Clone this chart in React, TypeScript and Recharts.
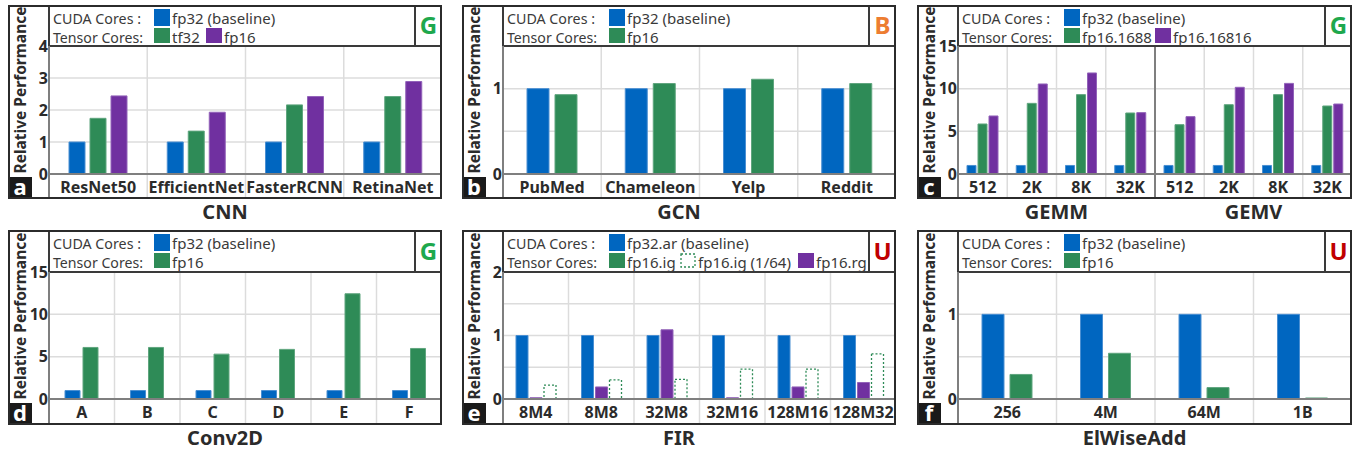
import { BarChart, Bar, XAxis, YAxis, CartesianGrid } from 'recharts';

const FONT = '"Noto Sans", sans-serif';
const BLUE = '#0066c0';
const GREEN = '#2e8b57';
const PURPLE = '#7030a0';
const TEXT = '#2b2b2b';
const FRAME = '#2b2b2b';
const AXIS = '#7f7f7f';
const GRID = '#dcdcdc';

// a: CNN
const cnnModels = ['ResNet50', 'EfficientNet', 'FasterRCNN', 'RetinaNet'];
const cnnFp32 = [1, 1, 1, 1];
const cnnTf32 = [1.74, 1.34, 2.16, 2.42];
const cnnFp16 = [2.44, 1.93, 2.42, 2.89];

// b: GCN
const gcnGraphs = ['PubMed', 'Chameleon', 'Yelp', 'Reddit'];
const gcnFp32 = [1, 1, 1, 1];
const gcnFp16 = [0.93, 1.06, 1.11, 1.06];

// c: GEMM / GEMV
const matSizes = ['512', '2K', '8K', '32K'];
const gemmFp32 = [1, 1, 1, 1];
const gemm1688 = [5.86, 8.28, 9.3, 7.15];
const gemm16816 = [6.8, 10.55, 11.84, 7.19];
const gemvFp32 = [1, 1, 1, 1];
const gemv1688 = [5.78, 8.12, 9.3, 7.97];
const gemv16816 = [6.72, 10.16, 10.62, 8.2];

// d: Conv2D
const convLayers = ['A', 'B', 'C', 'D', 'E', 'F'];
const convFp32 = [1, 1, 1, 1, 1, 1];
const convFp16 = [6.09, 6.09, 5.3, 5.86, 12.43, 5.97];

// e: FIR
const firConfigs = ['8M4', '8M8', '32M8', '32M16', '128M16', '128M32'];
const firFp32 = [1, 1, 1, 1, 1, 1];
const firRg = [0.02, 0.19, 1.09, 0.02, 0.19, 0.26];
const firIg64 = [0.22, 0.3, 0.31, 0.47, 0.47, 0.71];

// f: ElWiseAdd
const addSizes = ['256', '4M', '64M', '1B'];
const addFp32 = [1, 1, 1, 1];
const addFp16 = [0.29, 0.54, 0.135, 0.012];

const cnnRows = cnnModels.map((id, i) => ({ id, fp32: cnnFp32[i], tf32: cnnTf32[i], fp16: cnnFp16[i] }));
const gcnRows = gcnGraphs.map((id, i) => ({ id, fp32: gcnFp32[i], fp16: gcnFp16[i] }));
const gemmRows = [
  ...matSizes.map((s, i) => ({ id: 'GEMM ' + s, fp32: gemmFp32[i], h1688: gemm1688[i], h16816: gemm16816[i] })),
  ...matSizes.map((s, i) => ({ id: 'GEMV ' + s, fp32: gemvFp32[i], h1688: gemv1688[i], h16816: gemv16816[i] })),
];
const convRows = convLayers.map((id, i) => ({ id, fp32: convFp32[i], fp16: convFp16[i] }));
const firRows = firConfigs.map((id, i) => ({ id, fp32: firFp32[i], rg: firRg[i], ig64: firIg64[i] }));
const addRows = addSizes.map((id, i) => ({ id, fp32: addFp32[i], fp16: addFp16[i] }));

type Series = { key: string; fill: string; edge: string; dotted?: boolean };
type LegendItem = { label: string; fill: string; x: number; dotted?: boolean };
type Title = { text: string; cx: number };

interface PanelProps {
  left: number;
  top: number;
  width: number;
  height: number;
  legendH: number;
  axisH: number;
  rows: Record<string, string | number>[];
  labels: string[];
  series: Series[];
  barSize: number;
  barGap: number;
  domain: [number, number];
  ticks: number[];
  cuda: LegendItem[];
  tensor: LegendItem[];
  badge: string;
  badgeColor: string;
  letter: string;
  titles: Title[];
  divider?: number;
}

const sBlue: Series = { key: 'fp32', fill: BLUE, edge: '#4a8fd2' };

function Swatch({ item, y, h }: { item: LegendItem; y: number; h: number }) {
  if (item.dotted) {
    return (
      <rect x={item.x + 1} y={y + 1} width={14} height={h - 2} fill="#fff" stroke={item.fill} strokeWidth={1.3} strokeDasharray="2 2" />
    );
  }
  return <rect x={item.x} y={y} width={16} height={h} fill={item.fill} />;
}

function Panel(p: PanelProps) {
  const { left, top, width: W, height: H, legendH, axisH } = p;
  const yW = 41;
  const plotW = W - yW;
  const plotH = H - legendH - axisH;
  const n = p.rows.length;
  const bw = plotW / n;

  const renderTick = (t: any) => {
    const { x, y, index } = t;
    const sx = x - bw / 2;
    const isDiv = p.divider === index;
    return (
      <g>
        {index > 0 && !isDiv && (
          <>
            <line x1={sx} x2={sx} y1={y - plotH} y2={y - 1} stroke={GRID} strokeWidth={1.5} />
            <line x1={sx} x2={sx} y1={y + 1} y2={y + axisH} stroke={GRID} strokeWidth={1.5} />
          </>
        )}
        {isDiv && <line x1={sx} x2={sx} y1={y - plotH} y2={y + axisH} stroke={AXIS} strokeWidth={2} />}
        <text x={x} y={y + axisH / 2 + 6} textAnchor="middle" fontSize={16} fontWeight={700} fill={TEXT} fontFamily={FONT}>
          {p.labels[index]}
        </text>
      </g>
    );
  };

  return (
    <div style={{ position: 'absolute', left, top, width: W, height: H + 30 }}>
      <BarChart
        width={W}
        height={H}
        data={p.rows}
        margin={{ top: legendH, right: 0, bottom: 0, left: 0 }}
        barGap={p.barGap}
      >
        <CartesianGrid vertical={false} stroke={GRID} strokeWidth={1.5} />
        <XAxis
          dataKey="id"
          height={axisH}
          interval={0}
          tickLine={false}
          tickSize={0}
          tickMargin={0}
          axisLine={{ stroke: AXIS, strokeWidth: 2 }}
          tick={renderTick}
        />
        <YAxis
          width={yW}
          type="number"
          domain={p.domain}
          ticks={p.ticks}
          interval={0}
          allowDataOverflow
          tickLine={false}
          tickSize={0}
          tickMargin={1}
          axisLine={{ stroke: AXIS, strokeWidth: 2 }}
          tick={{ fontSize: 16, fontWeight: 700, fill: TEXT, fontFamily: FONT }}
          tickFormatter={(v: number) => (Number.isInteger(v) ? String(v) : '')}
        />
        {p.series.map((s) => (
          <Bar
            key={s.key}
            dataKey={s.key}
            barSize={p.barSize}
            fill={s.dotted ? '#ffffff' : s.fill}
            stroke={s.dotted ? s.fill : s.edge}
            strokeWidth={s.dotted ? 1.3 : 1}
            strokeDasharray={s.dotted ? '2 2' : undefined}
            isAnimationActive={false}
          />
        ))}
      </BarChart>
      <svg
        width={W}
        height={H + 30}
        style={{ position: 'absolute', left: 0, top: 0, overflow: 'visible', pointerEvents: 'none' }}
        fontFamily={FONT}
      >
        {/* legend */}
        <text x={45} y={18.5} fontSize={15} fill="#3a3a3a" textLength={88} lengthAdjust="spacingAndGlyphs">CUDA Cores :</text>
        <text x={45} y={37.5} fontSize={15} fill="#3a3a3a" textLength={90} lengthAdjust="spacingAndGlyphs">Tensor Cores:</text>
        {p.cuda.map((it) => (
          <g key={it.label}>
            <Swatch item={it} y={4} h={17} />
            <text x={it.x + 18} y={18.5} fontSize={15} fill="#3a3a3a">{it.label}</text>
          </g>
        ))}
        {p.tensor.map((it) => (
          <g key={it.label}>
            <Swatch item={it} y={23} h={15} />
            <text x={it.x + 18} y={37.5} fontSize={15} fill="#3a3a3a">{it.label}</text>
          </g>
        ))}
        <line x1={yW} x2={W} y1={legendH} y2={legendH} stroke="#3a3a3a" strokeWidth={2} />
        <line x1={yW} x2={yW} y1={0} y2={legendH} stroke="#3a3a3a" strokeWidth={2} />
        <line x1={yW} x2={yW} y1={legendH} y2={H} stroke={AXIS} strokeWidth={2} />
        <line x1={W - 27} x2={W - 27} y1={0} y2={legendH} stroke="#3a3a3a" strokeWidth={2} />
        <text x={W - 13.5} y={legendH / 2 + 8.5} textAnchor="middle" fontSize={24} fontWeight={700} fill={p.badgeColor}>
          {p.badge}
        </text>
        {/* y label */}
        <text
          transform={`translate(12, ${legendH + 44}) rotate(-90)`}
          textAnchor="middle"
          dominantBaseline="central"
          fontSize={15.5}
          fontWeight={700}
          fill={TEXT}
        >
          Relative Performance
        </text>
        {/* panel letter */}
        <rect x={0} y={H - 22} width={24} height={22} fill="#1a1a1a" />
        <text x={12} y={H - 4} textAnchor="middle" fontSize={22} fontWeight={700} fill="#fff">
          {p.letter}
        </text>
        <rect x={1} y={1} width={W - 2} height={H - 2} fill="none" stroke={FRAME} strokeWidth={2} />
        {p.titles.map((t) => (
          <text key={t.text} x={t.cx} y={H + 20} textAnchor="middle" fontSize={20} fontWeight={700} fill={TEXT}>
            {t.text}
          </text>
        ))}
      </svg>
    </div>
  );
}

const TOP = { top: 5, height: 194, legendH: 41, axisH: 25 };
const BOTTOM = { top: 230, height: 195, legendH: 42, axisH: 26 };

export default function App() {
  const cPlotW = 435 - 41;
  return (
    <div style={{ position: 'absolute', left: 0, top: 0, width: 1353, height: 451, background: '#fff', fontFamily: FONT }}>
      <Panel
        {...TOP}
        left={8}
        width={434}
        rows={cnnRows}
        labels={cnnModels}
        series={[sBlue, { key: 'tf32', fill: GREEN, edge: '#5fa57e' }, { key: 'fp16', fill: PURPLE, edge: '#9262b9' }]}
        barSize={16}
        barGap={5}
        domain={[0, 4]}
        ticks={[0, 1, 2, 3, 4]}
        cuda={[{ label: 'fp32 (baseline)', fill: BLUE, x: 146 }]}
        tensor={[
          { label: 'tf32', fill: GREEN, x: 146 },
          { label: 'fp16', fill: PURPLE, x: 198 },
        ]}
        badge="G"
        badgeColor="#1ea84d"
        letter="a"
        titles={[{ text: 'CNN', cx: 217 }]}
      />
      <Panel
        {...TOP}
        left={462}
        width={434}
        rows={gcnRows}
        labels={gcnGraphs}
        series={[sBlue, { key: 'fp16', fill: GREEN, edge: '#5fa57e' }]}
        barSize={22}
        barGap={6}
        domain={[0, 1.5]}
        ticks={[0, 0.5, 1, 1.5]}
        cuda={[{ label: 'fp32 (baseline)', fill: BLUE, x: 147 }]}
        tensor={[{ label: 'fp16', fill: GREEN, x: 147 }]}
        badge="B"
        badgeColor="#ed7d31"
        letter="b"
        titles={[{ text: 'GCN', cx: 217 }]}
      />
      <Panel
        {...TOP}
        left={917}
        width={435}
        rows={gemmRows}
        labels={[...matSizes, ...matSizes]}
        series={[sBlue, { key: 'h1688', fill: GREEN, edge: '#5fa57e' }, { key: 'h16816', fill: PURPLE, edge: '#9262b9' }]}
        barSize={9}
        barGap={2}
        domain={[0, 15]}
        ticks={[0, 5, 10, 15]}
        cuda={[{ label: 'fp32 (baseline)', fill: BLUE, x: 147 }]}
        tensor={[
          { label: 'fp16.1688', fill: GREEN, x: 147 },
          { label: 'fp16.16816', fill: PURPLE, x: 238 },
        ]}
        badge="G"
        badgeColor="#1ea84d"
        letter="c"
        divider={4}
        titles={[
          { text: 'GEMM', cx: 41 + cPlotW / 4 },
          { text: 'GEMV', cx: 41 + (cPlotW * 3) / 4 },
        ]}
      />
      <Panel
        {...BOTTOM}
        left={8}
        width={434}
        rows={convRows}
        labels={convLayers}
        series={[sBlue, { key: 'fp16', fill: GREEN, edge: '#5fa57e' }]}
        barSize={15}
        barGap={3}
        domain={[0, 15]}
        ticks={[0, 5, 10, 15]}
        cuda={[{ label: 'fp32 (baseline)', fill: BLUE, x: 146 }]}
        tensor={[{ label: 'fp16', fill: GREEN, x: 146 }]}
        badge="G"
        badgeColor="#1ea84d"
        letter="d"
        titles={[{ text: 'Conv2D', cx: 217 }]}
      />
      <Panel
        {...BOTTOM}
        left={462}
        width={434}
        rows={firRows}
        labels={firConfigs}
        series={[sBlue, { key: 'rg', fill: PURPLE, edge: '#9262b9' }, { key: 'ig64', fill: GREEN, edge: GREEN, dotted: true }]}
        barSize={12}
        barGap={2}
        domain={[0, 2]}
        ticks={[0, 0.5, 1, 1.5, 2]}
        cuda={[{ label: 'fp32.ar (baseline)', fill: BLUE, x: 147 }]}
        tensor={[
          { label: 'fp16.ig', fill: GREEN, x: 147 },
          { label: 'fp16.ig (1/64)', fill: GREEN, x: 218, dotted: true },
          { label: 'fp16.rg', fill: PURPLE, x: 336 },
        ]}
        badge="U"
        badgeColor="#c00000"
        letter="e"
        titles={[{ text: 'FIR', cx: 217 }]}
      />
      <Panel
        {...BOTTOM}
        left={917}
        width={435}
        rows={addRows}
        labels={addSizes}
        series={[sBlue, { key: 'fp16', fill: GREEN, edge: '#5fa57e' }]}
        barSize={22}
        barGap={6}
        domain={[0, 1.5]}
        ticks={[0, 0.5, 1, 1.5]}
        cuda={[{ label: 'fp32 (baseline)', fill: BLUE, x: 147 }]}
        tensor={[{ label: 'fp16', fill: GREEN, x: 147 }]}
        badge="U"
        badgeColor="#c00000"
        letter="f"
        titles={[{ text: 'ElWiseAdd', cx: 217.5 }]}
      />
    </div>
  );
}
